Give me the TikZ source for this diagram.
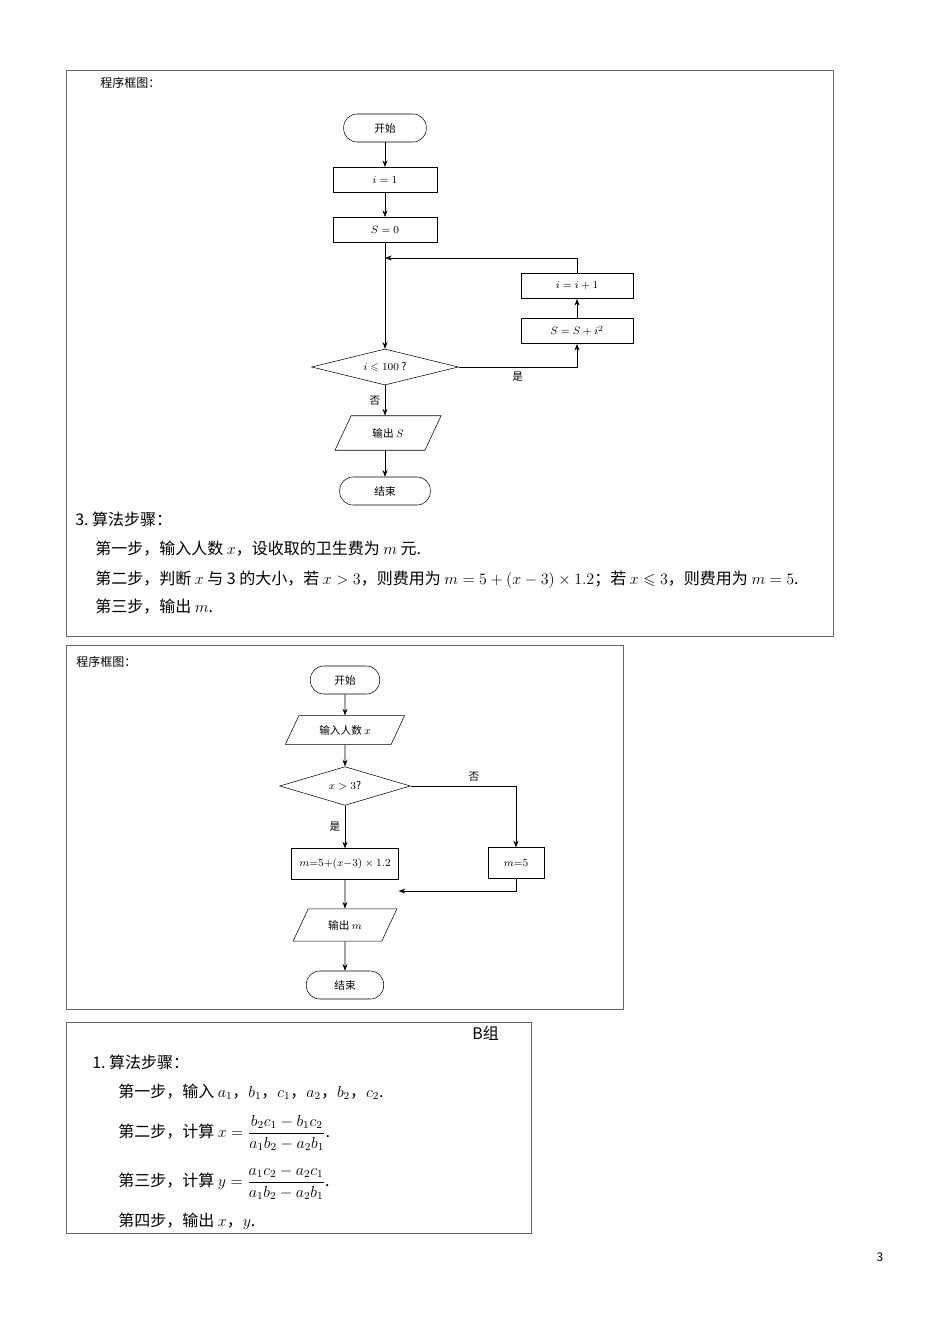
\documentclass[tikz,border=0pt]{standalone}
\usepackage{amsmath,amssymb}
\usepackage{fontspec}
\setmainfont{Noto Sans CJK SC}
\usetikzlibrary{shapes.geometric,arrows.meta}
\begin{document}
\begin{tikzpicture}[x=0.75pt,y=-0.75pt,
 panel/.style={draw=black!60,line width=0.6pt},
 term/.style={draw,rounded corners=10pt,minimum height=21pt,font=\footnotesize},
 proc/.style={draw,minimum height=19pt,font=\footnotesize},
 io/.style={draw,trapezium,trapezium left angle=65,trapezium right angle=115,minimum height=21pt,font=\footnotesize},
 dec/.style={draw,diamond,aspect=4,inner sep=1pt,font=\footnotesize},
 arr/.style={-{Stealth[length=5pt]},line width=0.5pt},
 txt/.style={anchor=west,font=\large,inner sep=0}]
\useasboundingbox (0,0) rectangle (950,1342);
% Panel 1
\draw[panel] (66,70) rectangle (833,636);
\node[txt,font=\small] (t1) at (100,83) {程序框图：};
\node[term,minimum width=62pt] (s1) at (385,128) {开始};
\node[proc,minimum width=78pt] (i1) at (385,180) {$i=1$};
\node[proc,minimum width=78pt] (s0) at (385,230) {$S=0$};
\node[dec,minimum width=110pt,minimum height=27pt] (d1) at (385,367) {$i\leqslant 100$ ?};
\node[proc,minimum width=84pt] (ii) at (577,286) {$i=i+1$};
\node[proc,minimum width=84pt] (ss) at (577,331) {$S=S+i^2$};
\node[io,minimum width=80pt] (o1) at (388,433) {输出 $S$};
\node[term,minimum width=68pt] (e1) at (385,491) {结束};
\draw[arr] (s1) -- (i1);
\draw[arr] (i1) -- (s0);
\draw[arr] (s0) -- (d1.north);
\draw[arr] (d1.east) -| (ss.south) node[pos=0.25,below,font=\footnotesize]{是};
\draw[arr] (ss) -- (ii);
\coordinate (c1) at (385,258);
\draw[arr] (ii.north) |- (c1);
\draw[arr] (d1.south) -- (o1.north -| d1.south) node[midway,left,font=\footnotesize]{否};
\draw[arr] (o1.south -| e1.north) -- (e1);
\node[txt] (p1) at (75,519) {3.\ 算法步骤：};
\node[txt] (p2) at (95,549) {第一步，输入人数 $x$，设收取的卫生费为 $m$ 元.};
\node[txt] (p3) at (95,580) {第二步，判断 $x$ 与 3 的大小，若 $x>3$，则费用为 $m=5+(x-3)\times1.2$；若 $x\leqslant3$，则费用为 $m=5$.};
\node[txt] (p4) at (95,607) {第三步，输出 $m$.};
% Panel 2
\draw[panel] (66,645) rectangle (623,1009);
\node[txt,font=\small] (t2) at (76,662) {程序框图：};
\node[term,minimum width=52pt] (s2) at (345,680) {开始};
\node[io,minimum width=90pt] (in2) at (345,730) {输入人数 $x$};
\node[dec,minimum width=98pt,minimum height=29pt] (d2) at (345,786) {$x>3$?};
\node[proc,minimum width=80pt,minimum height=23pt] (m1) at (345,864) {$m{=}5{+}(x{-}3)\times1.2$};
\node[proc,minimum width=42pt,minimum height=23pt] (m2) at (516,863) {$m{=}5$};
\node[io,minimum width=78pt] (o2) at (345,925) {输出 $m$};
\node[term,minimum width=58pt] (e2) at (345,985) {结束};
\draw[arr] (s2) -- (in2);
\draw[arr] (in2) -- (d2);
\draw[arr] (d2.east) -| (m2.north) node[pos=0.3,above,font=\footnotesize]{否};
\draw[arr] (d2.south) -- (m1.north) node[midway,left,font=\footnotesize]{是};
\coordinate (c2) at (345,891);
\draw[arr] (m2.south) |- (m1.south east |- c2);
\draw[arr] (m1.south) -- (o2.north);
\draw[arr] (o2.south) -- (e2);
% Panel 3
\draw[panel] (66,1022) rectangle (531,1233);
\node[txt] (bz) at (472,1033) {B组};
\node[txt] (q1) at (92,1062) {1.\ 算法步骤：};
\node[txt] (q2) at (118,1092) {第一步，输入 $a_1$，$b_1$，$c_1$，$a_2$，$b_2$，$c_2$.};
\node[txt] (q3) at (118,1133) {第二步，计算 $x=\dfrac{b_2c_1-b_1c_2}{a_1b_2-a_2b_1}$.};
\node[txt] (q4) at (118,1183) {第三步，计算 $y=\dfrac{a_1c_2-a_2c_1}{a_1b_2-a_2b_1}$.};
\node[txt] (q5) at (118,1221) {第四步，输出 $x$，$y$.};
\node[font=\small] (pg) at (880,1257) {3};
\end{tikzpicture}
\end{document}
